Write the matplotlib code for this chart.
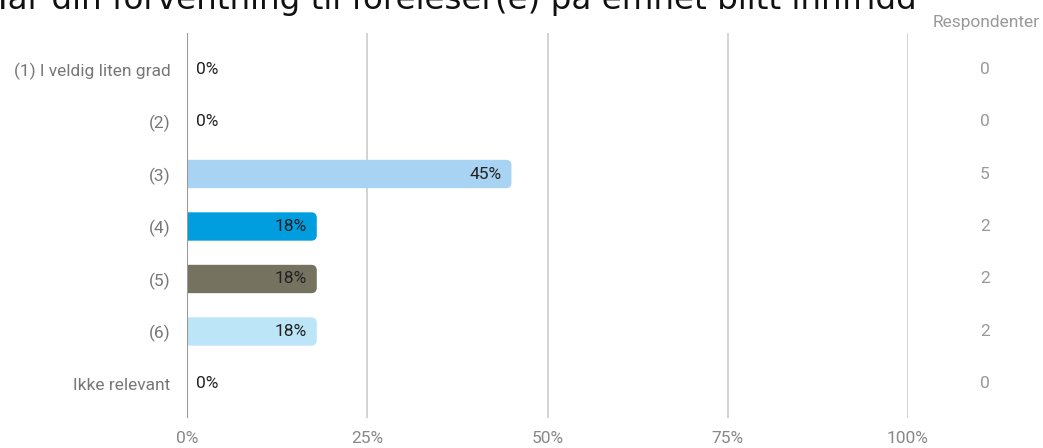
import matplotlib.pyplot as plt
from matplotlib.patches import FancyBboxPatch
from matplotlib.transforms import blended_transform_factory

categories = ["(1) I veldig liten grad", "(2)", "(3)", "(4)", "(5)", "(6)", "Ikke relevant"]
percents = [0, 0, 45, 18, 18, 18, 0]
respondents = [0, 0, 5, 2, 2, 2, 0]
colors = ["#a9d3f2", "#a9d3f2", "#a9d3f2", "#009ddf", "#767260", "#bce6f8", "#a9d3f2"]
xticks = [0, 25, 50, 75, 100]
title = "Har din forventning til foreleser(e) på emnet blitt innfridd"

plt.rcParams['font.family'] = ['Roboto', 'DejaVu Sans']

fig = plt.figure(figsize=(10.43, 4.48), dpi=100)
ax = fig.add_axes([187 / 1043, 30 / 448, 721 / 1043, 385 / 448])

ax.set_xlim(0, 100)
ax.set_ylim(6.648, -0.686)

# rounded bars (right end rounded, left end hidden behind the axis)
bar_h = 0.54
r = 5.5
px_x = 721 / 100
px_y = 385 / 7.334
for i, (p, c) in enumerate(zip(percents, colors)):
    if p > 0:
        patch = FancyBboxPatch((-3, i - bar_h / 2), p + 3, bar_h,
                               boxstyle="round,pad=0,rounding_size=%f" % (r / px_x),
                               mutation_aspect=px_x / px_y,
                               facecolor=c, edgecolor='none', zorder=2)
        ax.add_patch(patch)
        ax.text(p - 1.4, i, "%d%%" % p, ha='right', va='center', fontsize=12.5,
                color='#222222', zorder=3)
    else:
        ax.text(1.2, i, "%d%%" % p, ha='left', va='center', fontsize=12.5,
                color='#222222', zorder=3)

for t in xticks[1:]:
    ax.axvline(t, color='#cccccc', lw=1.2, zorder=1)
ax.axvline(0, color='#999999', lw=1.5, zorder=4)

for s in ax.spines.values():
    s.set_visible(False)

ax.set_yticks(range(len(categories)))
ax.set_yticklabels(categories, fontsize=12.5, color='#777777')
ax.set_xticks(xticks)
ax.set_xticklabels(["%d%%" % t for t in xticks], fontsize=12.5, color='#888888')
ax.tick_params(length=0)
ax.tick_params(axis='y', pad=12)
ax.tick_params(axis='x', pad=9)

# respondents column
tr = blended_transform_factory(ax.transAxes, ax.transData)
col_x = (985 - 187) / 721
for i, n in enumerate(respondents):
    ax.text(col_x, i, str(n), transform=tr, ha='center', va='center',
            fontsize=12.5, color='#999999')
fig.text(986 / 1043, 1 - 22 / 448, "Respondenter", ha='center', va='center',
         fontsize=12.5, color='#999999')

# title, cut off at the top as in the reference
fig.text(-17 / 1043, 1 - 9 / 448, title, ha='left', va='baseline',
         fontsize=23.4, color='#111111', family=['DejaVu Sans'])

fig.savefig("out.png", dpi=100)
